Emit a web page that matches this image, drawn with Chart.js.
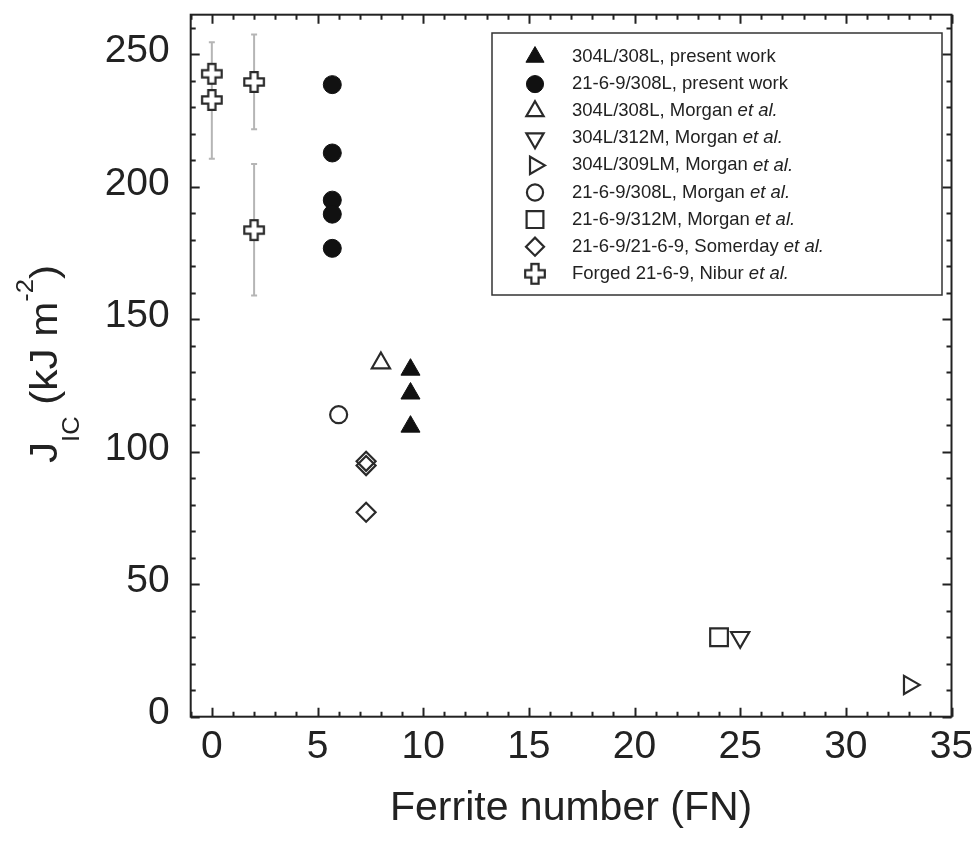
<!DOCTYPE html>
<html>
<head>
<meta charset="utf-8">
<script src="https://cdn.jsdelivr.net/npm/chart.js@4.4.0/dist/chart.umd.min.js"></script>
<style>
  html, body { margin: 0; padding: 0; background: #fff; }
  #plot { display: block; }
</style>
</head>
<body>
<canvas id="plot" width="980" height="842"></canvas>
<script>
// series names (the part after the comma is set in italics where it says "et al.")
const seriesNames = [
    '304L/308L, present work',
    '21-6-9/308L, present work',
    '304L/308L, Morgan ',
    '304L/312M, Morgan ',
    '304L/309LM, Morgan ',
    '21-6-9/308L, Morgan ',
    '21-6-9/312M, Morgan ',
    '21-6-9/21-6-9, Somerday ',
    'Forged 21-6-9, Nibur '
];
const seriesItalic = ['', '', 'et al.', 'et al.', 'et al.', 'et al.', 'et al.', 'et al.', 'et al.'];

// ferrite number (x) and J_IC (y)
const fn304Present = [9.4, 9.4, 9.4];
const j304Present = [131, 122, 109.5];
const fn2169Present = [5.7, 5.7, 5.7, 5.7, 5.7];
const j2169Present = [238.6, 212.8, 195.0, 189.7, 176.8];
const fn304Morgan308 = [8];
const j304Morgan308 = [133.5];
const fn304Morgan312 = [25];
const j304Morgan312 = [30];
const fn304Morgan309 = [33];
const j304Morgan309 = [12];
const fn2169Morgan308 = [6];
const j2169Morgan308 = [114];
const fn2169Morgan312 = [24];
const j2169Morgan312 = [30];
const fnSomerday = [7.3, 7.3, 7.3];
const jSomerday = [96.4, 94.8, 77.2];
const fnNibur = [0, 0, 2, 2];
const jNibur = [242.7, 232.8, 239.6, 183.7];

// error bars on the Nibur points
const errFn = [0, 2, 2];
const errLow = [210.6, 221.8, 159.0];
const errHigh = [254.6, 257.5, 208.6];

// axis ticks
const xTickVals = [0, 5, 10, 15, 20, 25, 30, 35];
const yTickVals = [0, 50, 100, 150, 200, 250];

const FONT = '"Liberation Sans", Arial, Helvetica, sans-serif';
const INK = '#222';

function pts(xs, ys) {
    return xs.map((x, i) => ({ x: x, y: ys[i] }));
}

// open plus marker used for the forged data
function plusImage() {
    const c = document.createElement('canvas');
    c.width = 24; c.height = 24;
    const g = c.getContext('2d');
    const m = 12, a = 3.6, L = 9.8;
    g.beginPath();
    g.moveTo(m - a, m - L); g.lineTo(m + a, m - L); g.lineTo(m + a, m - a);
    g.lineTo(m + L, m - a); g.lineTo(m + L, m + a); g.lineTo(m + a, m + a);
    g.lineTo(m + a, m + L); g.lineTo(m - a, m + L); g.lineTo(m - a, m + a);
    g.lineTo(m - L, m + a); g.lineTo(m - L, m - a); g.lineTo(m - a, m - a);
    g.closePath();
    g.fillStyle = '#fff';
    g.fill();
    g.lineWidth = 2.2;
    g.strokeStyle = '#2a2a2a';
    g.stroke();
    return c;
}
const plusMark = plusImage();

function series(i, xs, ys, style, radius, filled, rotation) {
    return {
        label: seriesNames[i],
        italic: seriesItalic[i],
        data: pts(xs, ys),
        pointStyle: style,
        pointRadius: radius,
        pointRotation: rotation || 0,
        pointBorderWidth: filled ? 1 : 2.2,
        pointBorderColor: filled ? '#111' : '#2a2a2a',
        pointBackgroundColor: filled ? '#111' : 'rgba(255,255,255,0)',
        showLine: false
    };
}

const datasets = [
    series(0, fn304Present, j304Present, 'triangle', 11, true),
    series(1, fn2169Present, j2169Present, 'circle', 9, true),
    series(2, fn304Morgan308, j304Morgan308, 'triangle', 10.5, false),
    series(3, fn304Morgan312, j304Morgan312, 'triangle', 10.5, false, 180),
    series(4, fn304Morgan309, j304Morgan309, 'triangle', 10.5, false, 90),
    series(5, fn2169Morgan308, j2169Morgan308, 'circle', 8.5, false),
    series(6, fn2169Morgan312, j2169Morgan312, 'rect', 12.5, false),
    series(7, fnSomerday, jSomerday, 'rectRot', 9.5, false),
    series(8, fnNibur, jNibur, plusMark, 10, false)
];

// grey error bars, drawn under the markers
const errorBars = {
    id: 'errorBars',
    beforeDatasetsDraw(chart) {
        const ctx = chart.ctx, xs = chart.scales.x, ys = chart.scales.y;
        ctx.save();
        ctx.strokeStyle = '#b5b5b5';
        ctx.lineWidth = 2;
        errFn.forEach((v, i) => {
            const px = xs.getPixelForValue(v);
            const lo = ys.getPixelForValue(errLow[i]);
            const hi = ys.getPixelForValue(errHigh[i]);
            ctx.beginPath();
            ctx.moveTo(px, lo); ctx.lineTo(px, hi);
            ctx.moveTo(px - 3, lo); ctx.lineTo(px + 3, lo);
            ctx.moveTo(px - 3, hi); ctx.lineTo(px + 3, hi);
            ctx.stroke();
        });
        ctx.restore();
    }
};

// box around the plot with inward ticks on all four sides
const frameTicks = {
    id: 'frameTicks',
    afterDatasetsDraw(chart) {
        const ctx = chart.ctx, a = chart.chartArea;
        const xs = chart.scales.x, ys = chart.scales.y;
        ctx.save();
        ctx.strokeStyle = INK;
        ctx.lineWidth = 2;
        ctx.beginPath();
        for (let v = -1; v <= 35; v++) {
            const px = Math.round(xs.getPixelForValue(v)) + 0.5;
            const len = v % 5 === 0 ? 9 : 5;
            ctx.moveTo(px, a.bottom); ctx.lineTo(px, a.bottom - len);
            ctx.moveTo(px, a.top); ctx.lineTo(px, a.top + len);
        }
        for (let v = 0; v <= 260; v += 10) {
            const py = Math.round(ys.getPixelForValue(v)) + 0.5;
            const len = v % 50 === 0 ? 9 : 5;
            ctx.moveTo(a.left, py); ctx.lineTo(a.left + len, py);
            ctx.moveTo(a.right, py); ctx.lineTo(a.right - len, py);
        }
        ctx.stroke();
        ctx.strokeRect(a.left, a.top, a.right - a.left, a.bottom - a.top);
        ctx.restore();
    }
};

// legend box inside the plot, top right
const boxLegend = {
    id: 'boxLegend',
    afterDraw(chart) {
        const ctx = chart.ctx;
        const bx = 492, by = 33, bw = 450, bh = 262;
        ctx.save();
        ctx.strokeStyle = '#333';
        ctx.lineWidth = 1.5;
        ctx.strokeRect(bx, by, bw, bh);
        ctx.textBaseline = 'middle';
        chart.data.datasets.forEach((ds, i) => {
            const y = 57 + i * 27.1;
            ctx.fillStyle = ds.pointBackgroundColor;
            ctx.strokeStyle = ds.pointBorderColor;
            ctx.lineWidth = ds.pointBorderWidth;
            Chart.helpers.drawPoint(ctx, {
                pointStyle: ds.pointStyle,
                rotation: ds.pointRotation,
                radius: ds.pointRadius * 0.95,
                borderWidth: ds.pointBorderWidth
            }, 535, y);
            ctx.fillStyle = INK;
            ctx.font = '18.5px ' + FONT;
            ctx.fillText(ds.label, 572, y);
            if (ds.italic) {
                const w = ctx.measureText(ds.label).width;
                ctx.font = 'italic 18.5px ' + FONT;
                ctx.fillText(ds.italic, 572 + w, y);
            }
        });
        ctx.restore();
    }
};

// y axis title with subscript and superscript
const yTitle = {
    id: 'yTitle',
    afterDraw(chart) {
        const ctx = chart.ctx;
        const big = '38px ' + FONT, small = '23px ' + FONT;
        const parts = [
            { t: 'J', f: big, dy: 0 },
            { t: 'IC', f: small, dy: 22 },
            { t: ' (kJ m', f: big, dy: 0 },
            { t: '-2', f: small, dy: -24 },
            { t: ')', f: big, dy: 0 }
        ];
        ctx.save();
        let total = 0;
        parts.forEach(p => { ctx.font = p.f; p.w = ctx.measureText(p.t).width; total += p.w; });
        ctx.translate(57, 364);
        ctx.rotate(-Math.PI / 2);
        ctx.scale(198 / total, 1);
        ctx.fillStyle = INK;
        ctx.textBaseline = 'alphabetic';
        let x = -total / 2;
        parts.forEach(p => {
            ctx.font = p.f;
            ctx.fillText(p.t, x, p.dy);
            x += p.w;
        });
        ctx.restore();
    }
};

new Chart(document.getElementById('plot'), {
    type: 'scatter',
    data: { datasets: datasets },
    options: {
        responsive: false,
        animation: false,
        layout: { padding: { top: 8.3, right: 28.5, left: 0, bottom: 0 } },
        plugins: {
            legend: { display: false },
            tooltip: { enabled: false }
        },
        scales: {
            x: {
                type: 'linear',
                min: -1,
                max: 35,
                afterBuildTicks: s => { s.ticks = xTickVals.map(v => ({ value: v })); },
                afterFit: s => { s.height = 125.3; s.paddingLeft = 0; s.paddingRight = 0; },
                grid: { display: false, drawTicks: false },
                border: { display: false },
                ticks: { color: INK, font: { family: FONT, size: 39 }, padding: 7, autoSkip: false, maxRotation: 0 },
                title: {
                    display: true,
                    text: 'Ferrite number (FN)',
                    color: INK,
                    font: { family: FONT, size: 41 },
                    padding: { top: 0, bottom: 9 }
                }
            },
            y: {
                min: 0,
                max: 265,
                afterBuildTicks: s => { s.ticks = yTickVals.map(v => ({ value: v })); },
                afterFit: s => { s.width = 190.7; s.paddingTop = 0; s.paddingBottom = 0; },
                grid: { display: false, drawTicks: false },
                border: { display: false },
                ticks: { color: INK, font: { family: FONT, size: 39 }, padding: 21, labelOffset: -3 }
            }
        }
    },
    plugins: [errorBars, frameTicks, boxLegend, yTitle]
});
</script>
</body>
</html>
